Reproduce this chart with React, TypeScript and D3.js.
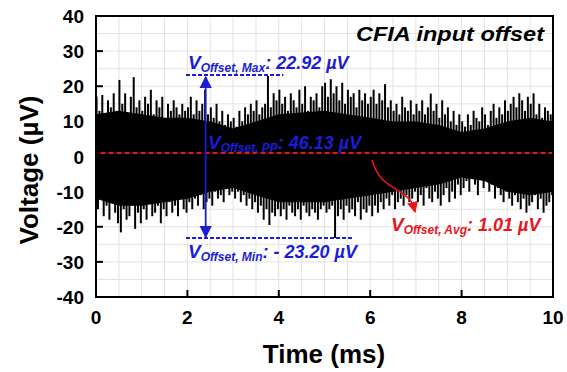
import React from 'react';
import * as d3 from 'd3';

const xTicks = [0, 2, 4, 6, 8, 10];
const yTicks = [-40, -30, -20, -10, 0, 10, 20, 30, 40];
const xGrid = d3.range(0, 10.01, 0.5);
const yGrid = d3.range(-40, 40.01, 5);

// Upper peaks of the noise waveform (µV), 16 per ms
const peakTop = [
  17, 13, 17.5, 12, 16, 14, 18, 13, 21.8, 15, 18, 12, 17, 22.6, 14, 16,
  13, 17, 15, 19, 12, 16, 14, 17, 11, 15, 13, 16, 14, 12, 15, 13,
  14, 17, 12, 16, 13, 15, 19, 12, 14, 11, 15, 10, 13, 9, 12, 10,
  11, 8.5, 13, 10, 14, 12, 15, 13, 16, 12, 14, 15, 22.92, 14, 18, 16,
  19, 15, 17, 13, 18, 16, 14, 19, 15, 20, 13, 17, 16, 18, 14, 20,
  21, 17, 22, 18, 20, 16, 21, 15, 19, 17, 18, 14, 19, 16, 18, 15,
  17, 19, 15, 18, 16, 20.6, 14, 16, 13, 15, 12, 17, 14, 13, 16, 12,
  15, 13, 16, 12, 14, 17.9, 13, 15, 11, 16, 12, 14, 10, 13, 9, 12,
  10, 8.5, 12, 9, 13, 11, 10, 14, 12, 9, 13, 15, 11, 14, 12, 16,
  13, 15, 17, 14, 18, 16, 13, 17, 15, 18, 12, 15, 11, 14, 13, 12,
];
// Lower peaks of the noise waveform (µV)
const peakBottom = [
  -15, -12, -17, -14, -18, -13, -16, -19, -21.6, -15, -18, -17, -14, -20.6, -16, -19,
  -15, -18, -13, -17, -16, -14, -19, -15, -17, -13, -16, -14, -17, -12, -15, -16,
  -13, -15, -12, -14, -11, -15, -13, -12, -14, -10, -12, -11, -13, -9, -11, -10,
  -12, -10, -13, -11, -14, -12, -15, -13, -16, -14, -18, -15, -19.5, -16, -17, -15,
  -17, -15, -18, -14, -16, -17, -15, -18, -14, -16, -17, -15, -16, -18, -15, -14,
  -16, -15, -14, -23.2, -17, -15, -18, -14, -16, -15, -17, -13, -18, -15, -16, -14,
  -17, -14, -16, -13, -15, -12, -14, -11, -15, -13, -12, -14, -11, -13, -12, -10,
  -13, -11, -14, -9, -12, -13, -10, -12, -14, -11, -9, -13, -10, -12, -8, -11,
  -9, -7, -10, -6, -8, -11, -5, -9, -7, -10, -8, -12, -9, -11, -13, -10,
  -12, -14, -11, -13, -15, -12, -16, -14, -13, -11, -15, -12, -16, -14, -13, -11,
];
// Solid (dense) core band of the waveform, every 0.5 ms
const coreTime = [0, 0.5, 1, 1.5, 2, 2.5, 3, 3.5, 4, 4.5, 5, 5.5, 6, 6.5, 7, 7.5, 8, 8.5, 9, 9.5, 10];
const coreTop = [12, 13, 12, 11, 11, 10, 8, 10, 12, 12.5, 13, 12, 11, 10, 10, 9, 7, 8, 10, 11, 10];
const coreBottom = [-12, -14, -14, -13, -12, -10, -9, -11, -13, -13, -13, -12, -11, -10, -9, -8, -6, -7, -10, -11, -10];

const vMax = 22.92;
const vMin = -23.2;
const vAvg = 1.01;
const vPP = 46.13;

const BLUE = '#1c1cd6';
const RED = '#e8161b';
const FONT = '"Liberation Sans", Arial, Helvetica, sans-serif';

export default function App() {
  const W = 567, H = 372;
  const L = 96, R = 553, T = 16, B = 297;
  const x = d3.scaleLinear().domain([0, 10]).range([L, R]);
  const y = d3.scaleLinear().domain([-40, 40]).range([B, T]);

  const n = peakTop.length;
  const dt = 10 / n;

  const core = d3.area<number>()
    .x((_, i) => x(coreTime[i]))
    .y0((_, i) => y(coreBottom[i]))
    .y1(d => y(d));

  const arrowX = x(2.4);
  const curve = `M 372 ${y(vAvg) + 7} C 378 182, 392 186, 402 193 S 413 204, 415 212`;

  const Label = ({ xx, yy, fill, sub, rest }: { xx: number; yy: number; fill: string; sub: string; rest: string }) => (
    <text x={xx} y={yy} fill={fill} fontWeight="bold" fontStyle="italic" fontSize={19}>
      V<tspan fontSize={12} dy={3}>{sub}</tspan><tspan dy={-3} fontSize={18}>{rest}</tspan>
    </text>
  );

  return (
    <svg width={W} height={H} style={{ position: 'absolute', left: 0, top: 0, background: '#fff' }} fontFamily={FONT}>
      <defs>
        <marker id="ab" viewBox="0 0 10 10" refX="9" refY="5" markerWidth="7" markerHeight="7" orient="auto-start-reverse">
          <path d="M0,0 L10,5 L0,10 z" fill={BLUE} />
        </marker>
        <marker id="ar" viewBox="0 0 10 10" refX="9" refY="5" markerWidth="7" markerHeight="7" orient="auto">
          <path d="M0,0 L10,5 L0,10 z" fill={RED} />
        </marker>
        <clipPath id="plot"><rect x={L} y={T} width={R - L} height={B - T} /></clipPath>
      </defs>

      {/* grid */}
      {xGrid.map(g => (
        <line key={'gx' + g} x1={x(g)} x2={x(g)} y1={T} y2={B} stroke="#e2e2e2" strokeWidth={1} />
      ))}
      {yGrid.map(g => (
        <line key={'gy' + g} x1={L} x2={R} y1={y(g)} y2={y(g)} stroke="#e2e2e2" strokeWidth={1} />
      ))}

      {/* waveform */}
      <g clipPath="url(#plot)">
        <path d={core(coreTop) || ''} fill="#000" />
        {peakTop.map((v, i) => (
          <line key={'pt' + i} x1={x(i * dt + dt * 0.2)} x2={x(i * dt + dt * 0.2)} y1={y(0)} y2={y(v)} stroke="#000" strokeWidth={2} />
        ))}
        {peakBottom.map((v, i) => (
          <line key={'pb' + i} x1={x(i * dt + dt * 0.7)} x2={x(i * dt + dt * 0.7)} y1={y(0)} y2={y(v)} stroke="#000" strokeWidth={2} />
        ))}
        <line x1={x(0.1)} x2={R} y1={y(vAvg)} y2={y(vAvg)} stroke={RED} strokeWidth={2} strokeDasharray="5,3" />
      </g>

      {/* ticks */}
      {xTicks.map(t => (
        <g key={'xt' + t}>
          <line x1={x(t)} x2={x(t)} y1={B} y2={B - 7} stroke="#000" strokeWidth={2} />
          <text x={x(t)} y={B + 27} textAnchor="middle" fontSize={19} fontWeight="bold">{t}</text>
        </g>
      ))}
      {yTicks.map(t => (
        <g key={'yt' + t}>
          <line x1={L} x2={L + 7} y1={y(t)} y2={y(t)} stroke="#000" strokeWidth={2} />
          <text x={L - 12} y={y(t) + 7} textAnchor="end" fontSize={19} fontWeight="bold">{t}</text>
        </g>
      ))}
      <rect x={L} y={T} width={R - L} height={B - T} fill="none" stroke="#000" strokeWidth={2} />

      {/* axis titles */}
      <text x={324} y={363} textAnchor="middle" fontSize={26} fontWeight="bold">Time (ms)</text>
      <text transform={`translate(38, 170) rotate(-90)`} textAnchor="middle" fontSize={26} fontWeight="bold">Voltage (µV)</text>

      {/* title */}
      <text x={544} y={41} textAnchor="end" fontSize={21} fontWeight="bold" fontStyle="italic" textLength={188} lengthAdjust="spacingAndGlyphs">CFIA input offset</text>

      {/* max / min annotations */}
      <line x1={x(1.97)} x2={x(4.1)} y1={y(vMax) - 1} y2={y(vMax) - 1} stroke={BLUE} strokeWidth={2} strokeDasharray="4,2" />
      <line x1={x(1.97)} x2={x(5.6)} y1={y(vMin)} y2={y(vMin)} stroke={BLUE} strokeWidth={2} strokeDasharray="4,2" />
      <line x1={arrowX} x2={arrowX} y1={y(vMax) + 1} y2={y(vMin) - 1} stroke={BLUE} strokeWidth={1.8}
        markerStart="url(#ab)" markerEnd="url(#ab)" />

      <Label xx={188} yy={69} fill={BLUE} sub="Offset, Max" rest={`: ${vMax.toFixed(2)} µV`} />
      <Label xx={188} yy={258} fill={BLUE} sub="Offset, Min" rest={`: - ${Math.abs(vMin).toFixed(2)} µV`} />
      <Label xx={208} yy={149} fill={BLUE} sub="Offset, PP" rest={`: ${vPP.toFixed(2)} µV`} />

      {/* average annotation */}
      <path d={curve} fill="none" stroke={RED} strokeWidth={1.6} markerEnd="url(#ar)" />
      <Label xx={391} yy={231} fill={RED} sub="Offset, Avg" rest={`: ${vAvg.toFixed(2)} µV`} />
    </svg>
  );
}
